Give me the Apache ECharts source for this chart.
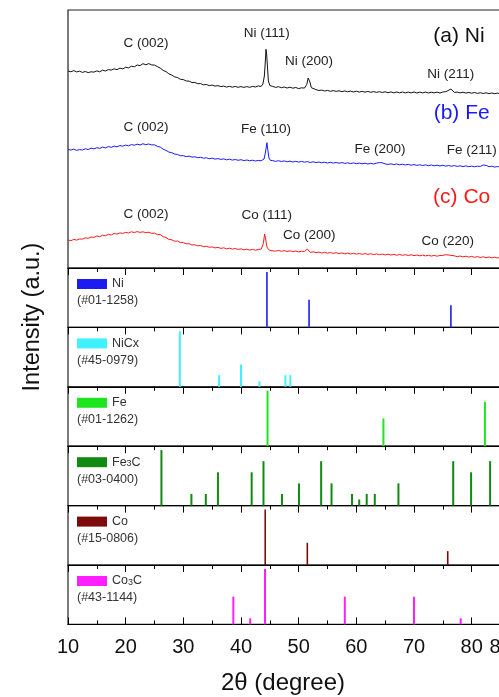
<!DOCTYPE html>
<html><head><meta charset="utf-8">
<script src="https://cdn.jsdelivr.net/npm/echarts@6/dist/echarts.min.js"></script>
<style>html,body{margin:0;padding:0;background:#fff}#c{width:499px;height:697px}</style>
</head><body><div id="c"></div>
<script>
// ---------------- DATA ----------------
// XRD patterns (2θ, offset intensity in a.u.)
const patternNi = [[10,197],[10.5,196.2],[11,197.4],[11.5,196.1],[12,196.8],[12.5,195.6],[13,196.5],[13.5,195.4],[14,196.2],[14.5,195.9],[15,197.1],[15.5,196.2],[16,197.8],[16.5,197],[17,198.4],[17.5,197.9],[18,199.2],[18.5,198.3],[19,199.9],[19.5,199.1],[20,200.8],[20.5,200.1],[21,201.8],[21.5,201.2],[22,203],[22.5,202.4],[23,204.3],[23.5,203.2],[24,204.4],[24.5,203.1],[25,202.9],[25.5,201.4],[26,199.9],[26.5,197.6],[27,196.4],[27.5,194.1],[28,192.9],[28.5,191.1],[29,190.4],[29.5,188.7],[30,188.4],[30.5,187],[31,186.9],[31.5,185.4],[32,185.5],[32.5,184.3],[33,184.4],[33.5,183.2],[34,183.5],[34.5,182.4],[35,182.9],[35.5,181.9],[36,182.4],[36.5,181.4],[37,181.9],[37.5,180.9],[38,181.7],[38.5,180.8],[39,181.6],[39.5,180.7],[40,181.4],[40.5,180.6],[41,181.4],[41.5,180.7],[42,181.6],[42.5,181],[43,182],[43.5,181.6],[43.8,184],[44.05,192],[44.2,205],[44.33,218.7],[44.45,214],[44.6,200],[44.75,187],[45,182.5],[45.5,181.6],[46,180.6],[46.5,181.3],[47,180.3],[47.5,181],[48,180],[48.5,180.8],[49,179.8],[49.5,180.5],[50,179.4],[50.5,180.2],[51,179.9],[51.4,183.5],[51.65,190],[51.8,191.3],[51.95,186],[52.2,180.3],[52.5,178.6],[53,178.4],[53.5,177.5],[54,177.9],[54.5,177],[55,177.6],[55.5,176.7],[56,177.4],[56.5,176.6],[57,177.2],[57.5,176.3],[58,177.1],[58.5,176.2],[59,176.9],[59.5,176],[60,176.8],[60.5,175.9],[61,176.7],[61.5,175.8],[62,176.6],[62.5,175.7],[63,176.4],[63.5,175.6],[64,176.3],[64.5,175.5],[65,176.2],[65.5,175.3],[66,176.1],[66.5,175.2],[67,176],[67.5,175.2],[68,176],[68.5,175.1],[69,175.9],[69.5,175.1],[70,176],[70.5,175],[71,175.9],[71.5,175.1],[72,175.9],[72.5,175],[73,175.8],[73.5,175.1],[74,175.9],[74.5,175],[75,176],[75.5,176.3],[75.9,177.4],[76.2,178.8],[76.4,179],[76.7,177],[77,175.6],[77.5,175.9],[78,175.1],[78.5,175.8],[79,174.9],[79.5,175.6],[80,174.8],[80.5,175.5],[81,174.6],[81.5,175.3],[82,174.5],[82.5,175.2],[83,174.4],[83.5,175],[84,174.3],[84.5,174.9],[85,174.2]];
const patternFe = [[10,118.7],[10.5,117.9],[11,118.9],[11.5,117.6],[12,118.4],[12.5,118],[13,119.2],[13.5,118.5],[14,119.8],[14.5,119.1],[15,120.3],[15.5,119.6],[16,120.9],[16.5,120.1],[17,121.4],[17.5,120.7],[18,121.9],[18.5,121.2],[19,122.4],[19.5,121.8],[20,122.9],[20.5,122.2],[21,123.4],[21.5,122.8],[22,123.8],[22.5,123.1],[23,124.2],[23.5,123.4],[24,124],[24.5,123.1],[25,123.2],[25.5,121.6],[26,120.9],[26.5,118.8],[27,117.6],[27.5,115.9],[28,115.3],[28.5,113.9],[29,113.5],[29.5,112.3],[30,112.3],[30.5,111.4],[31,111.8],[31.5,110.9],[32,111.2],[32.5,110.3],[33,110.7],[33.5,109.8],[34,110.2],[34.5,109.3],[35,109.8],[35.5,108.9],[36,109.4],[36.5,108.6],[37,109.1],[37.5,108.2],[38,108.8],[38.5,107.9],[39,108.5],[39.5,107.7],[40,108.3],[40.5,107.4],[41,108],[41.5,107.2],[42,107.8],[42.5,107],[43,107.6],[43.5,107.2],[44,109],[44.25,116],[44.5,125.3],[44.65,118],[44.85,110],[45.1,107.6],[45.5,107.4],[46,106.6],[46.5,107.3],[47,106.5],[47.5,107.1],[48,106.2],[48.5,106.9],[49,106],[49.5,106.7],[50,105.9],[50.5,106.6],[51,105.8],[51.5,106.4],[52,105.5],[52.5,106.2],[53,105.4],[53.5,106],[54,105.2],[54.5,105.8],[55,105],[55.5,105.7],[56,104.9],[56.5,105.5],[57,104.8],[57.5,105.4],[58,104.6],[58.5,105.2],[59,104.4],[59.5,105.1],[60,104.3],[60.5,104.9],[61,104.2],[61.5,104.8],[62,104],[62.5,104.7],[63,104],[63.5,104.9],[64,105.4],[64.5,105.2],[65,104.1],[65.5,103.6],[66,104.2],[66.5,103.4],[67,104],[67.5,103.2],[68,103.8],[68.5,103],[69,103.6],[69.5,102.8],[70,103.4],[70.5,102.6],[71,103.2],[71.5,102.5],[72,103.1],[72.5,102.3],[73,103],[73.5,102.2],[74,102.8],[74.5,102],[75,102.7],[75.5,101.9],[76,102.5],[76.5,101.8],[77,102.4],[77.5,101.6],[78,102.2],[78.5,101.4],[79,102.1],[79.5,101.3],[80,101.9],[80.5,101.2],[81,101.8],[81.5,101.6],[82,103],[82.3,104],[82.6,102.5],[83,101.3],[83.5,101.8],[84,100.9],[84.5,101.5],[85,100.8]];
const patternCo = [[10,28],[10.5,27.3],[11,28.6],[11.5,27.9],[12,29],[12.5,28.9],[13,30.2],[13.5,29.6],[14,31],[14.5,30.6],[15,32],[15.5,31.3],[16,32.8],[16.5,32.2],[17,33.7],[17.5,33],[18,34.5],[18.5,33.9],[19,35.1],[19.5,34.6],[20,35.7],[20.5,35],[21,36.2],[21.5,35.5],[22,36.4],[22.5,35.6],[23,36.2],[23.5,35.3],[24,35.8],[24.5,34.6],[25,34.9],[25.5,33.4],[26,33.4],[26.5,31.3],[27,30.4],[27.5,28.6],[28,28.2],[28.5,26.8],[29,26.9],[29.5,25.4],[30,25.4],[30.5,24.2],[31,24.3],[31.5,23.1],[32,23.2],[32.5,22.2],[33,22.5],[33.5,21.3],[34,21.7],[34.5,20.7],[35,21.1],[35.5,20.1],[36,20.6],[36.5,19.6],[37,20.2],[37.5,19.2],[38,19.8],[38.5,18.9],[39,19.5],[39.5,18.6],[40,19.1],[40.5,18.2],[41,18.8],[41.5,17.9],[42,18.6],[42.5,17.8],[43,18.5],[43.5,18.9],[43.85,24],[44.1,34],[44.3,28],[44.5,21],[44.8,18.3],[45.2,17.3],[45.5,17.9],[46,16.9],[46.5,17.6],[47,16.7],[47.5,17.4],[48,16.5],[48.5,17.2],[49,16.3],[49.5,17],[50,16.1],[50.5,16.8],[51,16.4],[51.3,18],[51.5,19],[51.75,17],[52,15.6],[52.5,16.2],[53,15.3],[53.5,15.9],[54,15],[54.5,15.7],[55,14.8],[55.5,15.5],[56,14.6],[56.5,15.3],[57,14.4],[57.5,15.1],[58,14.2],[58.5,14.9],[59,14],[59.5,14.7],[60,13.9],[60.5,14.5],[61,13.7],[61.5,14.4],[62,13.6],[62.5,14.2],[63,13.4],[63.5,14.1],[64,13.3],[64.5,13.9],[65,13.1],[65.5,13.8],[66,13],[66.5,13.6],[67,12.8],[67.5,13.5],[68,12.7],[68.5,13.3],[69,12.5],[69.5,13.2],[70,12.4],[70.5,13],[71,12.2],[71.5,12.9],[72,12.1],[72.5,12.7],[73,11.9],[73.5,12.6],[74,11.8],[74.5,12.5],[75,12.6],[75.5,13.3],[75.8,13.6],[76.2,12.8],[76.5,11.6],[77,12.2],[77.5,11.3],[78,12],[78.5,11.1],[79,11.8],[79.5,10.9],[80,11.6],[80.5,10.7],[81,11.4],[81.5,10.5],[82,11.2],[82.5,10.3],[83,11],[83.5,10.2],[84,10.8],[84.5,10],[85,10.6]];

// Reference cards (2θ, relative intensity)
const refNames = ['Ni', 'NiCx', 'Fe', 'Fe3C', 'Co', 'Co3C'];
const refCards = ['(#01-1258)', '(#45-0979)', '(#01-1262)', '(#03-0400)', '(#15-0806)', '(#43-1144)'];
const refNi   = [[44.5,100],[51.8,50],[76.4,40]];
const refNiCx = [[29.4,100],[36.2,21],[40.0,40],[43.2,10],[47.7,21],[48.55,21]];
const refFe   = [[44.6,100],[64.7,50],[82.3,80]];
const refFe3C = [[26.2,100],[31.4,21],[33.9,21],[36.0,60],[41.85,60],[43.9,80],[47.1,21],[50.05,40],[53.9,80],[55.7,40],[59.25,21],[60.5,11],[61.8,21],[63.2,21],[67.3,40],[76.8,80],[79.9,60],[83.2,80]];
const refCo   = [[44.2,100],[51.5,40],[75.85,25]];
const refCo3C = [[38.67,50],[41.6,11],[44.16,100],[58.0,50],[70.0,50],[78.1,11]];

const xTicks = [10, 20, 30, 40, 50, 60, 70, 80];
const peakLabels = ['C (002)','Ni (111)','Ni (200)','Ni (211)','C (002)','Fe (110)','Fe (200)','Fe (211)','C (002)','Co (111)','Co (200)','Co (220)'];
const sampleLabels = ['(a) Ni','(b) Fe','(c) Co'];

// ---------------- LAYOUT / STYLE ----------------
const FONT = 'Liberation Sans';
const LEFT = 68, PLOT_W = 432.5, TOP0 = 10, TOP_H = 258, PANEL_H = 59.4;
const refData = [refNi, refNiCx, refFe, refFe3C, refCo, refCo3C];
const refColors = ['#1c1cf0', '#3ff2ff', '#1ee61e', '#108a10', '#7c0a0a', '#ff1eff'];
const refBarW = [1.6, 2, 2, 2, 1.6, 2];
const peakPos = [[146,43.3],[266.7,33],[309,61.7],[450.7,74],[146,127.3],[266,129.3],[380,149],[471.7,150.7],[146,214],[266.7,215],[309.3,235.3],[447.7,241]];
const samplePos = [[459,36.7],[461.7,113.3],[461.7,197.3]];
const sampleColors = ['#111', '#1a1aff', '#ff1a1a'];
const AXC = '#222';

const grids = [{left: LEFT, top: TOP0, width: PLOT_W, height: TOP_H}];
for (let i = 0; i < 6; i++) grids.push({left: LEFT, top: TOP0 + TOP_H + i * PANEL_H, width: PLOT_W, height: PANEL_H});
grids.forEach(g => { g.show = true; g.borderColor = AXC; g.borderWidth = 1.2; g.outerBoundsMode = 'none'; });

const xMin = xTicks[0], xMax = 85, xInt = xTicks[1] - xTicks[0];
// Bottom axis of every panel: panels 0-5 tick outward (down into the next panel),
// the last panel ticks inward (up) and carries the labels.
function tickAxis(gi, last) {
  return {
    gridIndex: gi, type: 'value', position: 'bottom', min: xMin, max: xMax, interval: xInt,
    axisLine: {show: true, lineStyle: {color: '#000', width: 1}},
    axisTick: {show: true, inside: !!last, length: 7, lineStyle: {color: '#000', width: 1}},
    minorTick: {show: true, splitNumber: 2, length: 4, lineStyle: {color: '#000', width: 1}},
    axisLabel: last ? {show: true, fontSize: 20, color: '#111', fontFamily: FONT, margin: 13} : {show: false},
    splitLine: {show: false}
  };
}
const xAxes = [tickAxis(0, false)];
const yAxes = [{gridIndex: 0, type: 'value', min: 0, max: TOP_H, show: false}];
for (let i = 1; i <= 6; i++) {
  xAxes.push(tickAxis(i, i === 6));
  yAxes.push({gridIndex: i, type: 'value', min: 0, max: 107, show: false});
}

const series = [];
[[patternNi, '#111'], [patternFe, '#1a1aff'], [patternCo, '#ff1a1a']].forEach((p, k) => {
  series.push({type: 'line', name: 'pattern' + k, xAxisIndex: 0, yAxisIndex: 0, data: p[0],
    showSymbol: false, symbol: 'none', lineStyle: {color: p[1], width: 1}});
});
refNames.forEach((n, i) => {
  series.push({type: 'bar', name: n, xAxisIndex: i + 1, yAxisIndex: i + 1, data: refData[i],
    barWidth: refBarW[i], itemStyle: {color: refColors[i]}});
});

const legends = refNames.map((n, i) => ({
  data: [n], left: 77, top: TOP0 + TOP_H + i * PANEL_H + 8, orient: 'horizontal',
  icon: 'rect', itemWidth: 30, itemHeight: 10, itemGap: 0, padding: 0, selectedMode: false,
  formatter: name => name.replace(/(\d)/, '{s|$1}'),
  textStyle: {fontSize: 12.5, color: '#333', fontFamily: FONT, lineHeight: 16,
    rich: {s: {fontSize: 9, color: '#333', fontFamily: FONT, padding: [3,0,0,0]}}}
}));

const graphics = [];
function txt(t, x, y, size, color, extra) {
  return Object.assign({type: 'text', x: x, y: y, silent: true,
    style: {text: t, fill: color, fontSize: size, fontFamily: FONT,
      align: 'center', verticalAlign: 'middle'}}, extra || {});
}
peakLabels.forEach((t, i) => graphics.push(txt(t, peakPos[i][0], peakPos[i][1], 13.5, '#222')));
sampleLabels.forEach((t, i) => graphics.push(txt(t, samplePos[i][0], samplePos[i][1], 21, sampleColors[i])));
refCards.forEach((t, i) => {
  const g = txt(t, 77, TOP0 + TOP_H + i * PANEL_H + 33, 12.5, '#333');
  g.style.align = 'left';
  graphics.push(g);
});
graphics.push(txt('Intensity (a.u.)', 33, 317, 23.5, '#111', {rotation: Math.PI / 2}));
graphics.push(txt('2\u03b8 (degree)', 283, 683, 24, '#111'));

const chart = echarts.init(document.getElementById('c'));
chart.setOption({
  animation: false, backgroundColor: '#fff',
  grid: grids, xAxis: xAxes, yAxis: yAxes, series: series, legend: legends, graphic: graphics
});
</script></body></html>
